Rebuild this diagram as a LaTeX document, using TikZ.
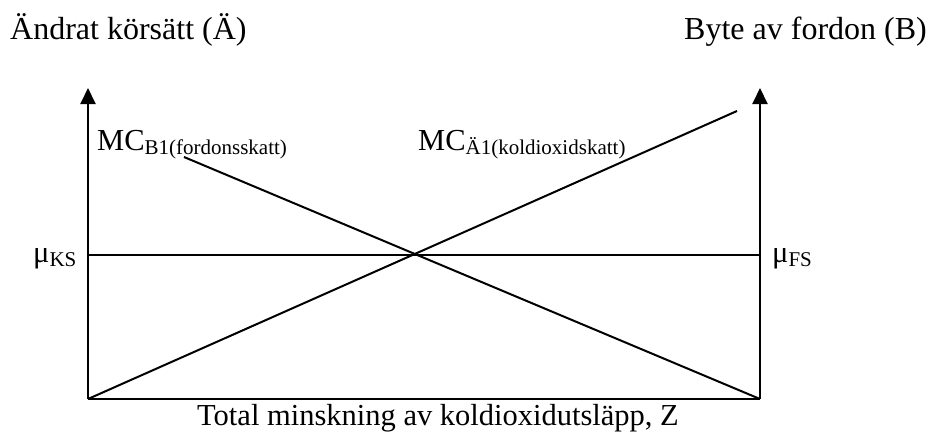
\documentclass[tikz,border=0pt]{standalone}
\usepackage{fontspec}
\setmainfont{Liberation Serif}
\usetikzlibrary{arrows.meta}
\tikzset{
  lbl/.style={inner sep=0pt, font=\fontsize{31}{36}\selectfont},
  big/.style={inner sep=0pt, font=\fontsize{30.5}{36}\selectfont},
  axisline/.style={line width=2pt, -{Triangle[length=16pt,width=15pt]}},
  curve/.style={line width=2pt},
}
\newcommand{\sbx}[1]{{\fontsize{21}{21}\selectfont\raisebox{-4pt}{#1}}}
\begin{document}
\begin{tikzpicture}[x=1pt,y=-1pt]
\useasboundingbox (0,0) rectangle (929,434);
% coordinates
\coordinate (O) at (88,399);
\coordinate (R) at (760,399);
\coordinate (Ltop) at (88,88);
\coordinate (Rtop) at (760,88);
\coordinate (ML) at (88,255);
\coordinate (MR) at (760,255);
\coordinate (Aend) at (737,111);
\coordinate (Bstart) at (184,157);
% axes
\draw[axisline] (O) -- (Ltop);
\draw[axisline] (R) -- (Rtop);
\draw[curve] (O) -- (R);
\draw[curve] (ML) -- (MR);
% curves
\draw[curve] (O) -- (Aend);
\draw[curve] (Bstart) -- (R);
% labels
\node[lbl, font=\fontsize{32}{36}\selectfont, anchor=base west] (tl) at (10,39) {Ändrat körsätt (Ä)};
\node[lbl, font=\fontsize{32}{36}\selectfont, anchor=base east] (tr) at (927,39) {Byte av fordon (B)};
\node[big, anchor=base west] (mcb) at (97,150) {MC\sbx{B1(fordonsskatt)}};
\node[big, anchor=base west] (mca) at (418,150) {MC\sbx{Ä1(koldioxidskatt)}};
\node[big, anchor=base west] (muks) at (33,262) {μ\sbx{KS}};
\node[big, anchor=base west] (mufs) at (772,262) {μ\sbx{FS}};
\node[big, anchor=base] (xl) at (438,425) {Total minskning av koldioxidutsläpp, Z};
\end{tikzpicture}
\end{document}
